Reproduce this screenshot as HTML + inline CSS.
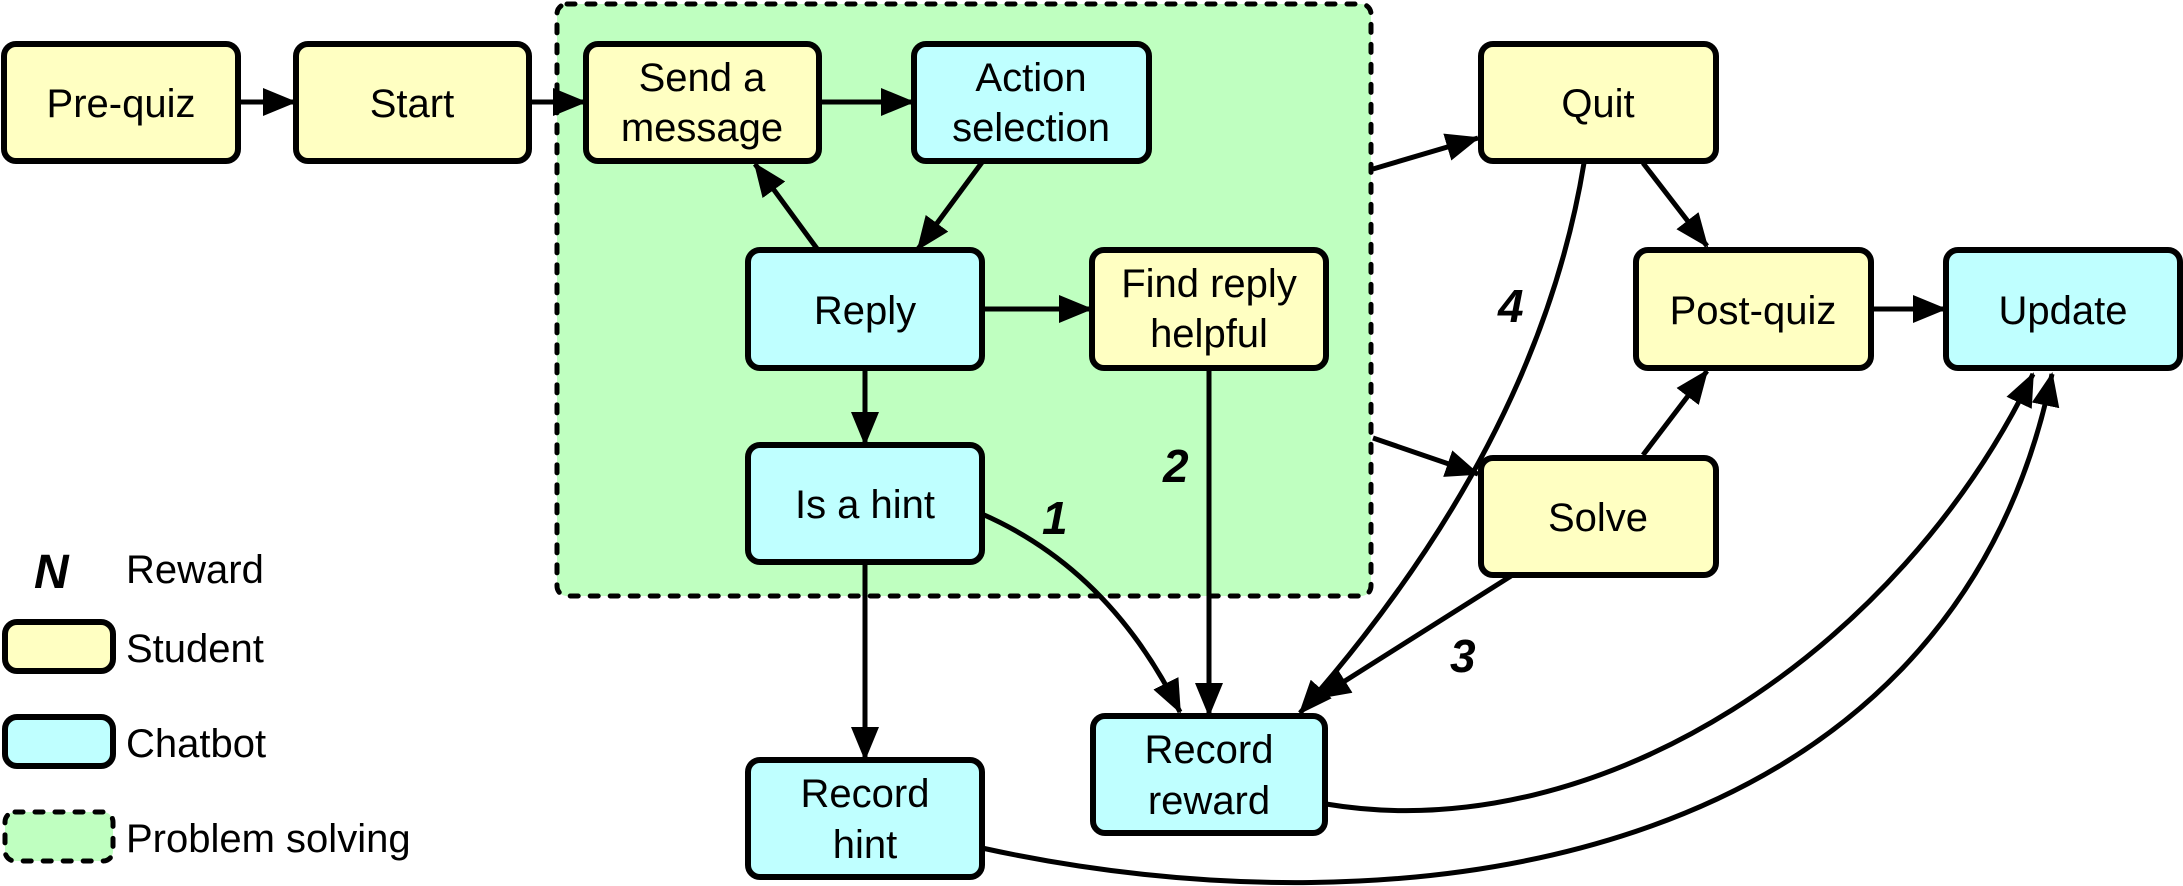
<!DOCTYPE html>
<html><head><meta charset="utf-8"><style>
html,body{margin:0;padding:0;background:#fff;}
svg{display:block;}
text{font-family:"Liberation Sans",Arial,sans-serif;font-size:40px;fill:#000;}
.n{font-weight:bold;font-style:italic;font-size:46px;}
</style></head><body>
<svg width="2183" height="886" viewBox="0 0 2183 886" xmlns="http://www.w3.org/2000/svg">
<defs>
<marker id="a" markerUnits="userSpaceOnUse" markerWidth="34" markerHeight="28" refX="32" refY="14" orient="auto">
<path d="M0,0 L34,14 L0,28 Z" fill="#000"/>
</marker>
</defs>
<rect x="557" y="4" width="814" height="592" rx="10" fill="#bfffc0" stroke="#000" stroke-width="5" stroke-dasharray="8,12" stroke-linecap="round"/>

<g stroke="#000" stroke-width="6">
<rect x="4" y="44" width="234" height="117" rx="12" fill="#ffffc2"/>
<rect x="296" y="44" width="233" height="117" rx="12" fill="#ffffc2"/>
<rect x="586" y="44" width="233" height="117" rx="12" fill="#ffffc2"/>
<rect x="914" y="44" width="235" height="117" rx="12" fill="#bfffff"/>
<rect x="748" y="250" width="234" height="118" rx="12" fill="#bfffff"/>
<rect x="1092" y="250" width="234" height="118" rx="12" fill="#ffffc2"/>
<rect x="748" y="445" width="234" height="117" rx="12" fill="#bfffff"/>
<rect x="1093" y="716" width="232" height="117" rx="12" fill="#bfffff"/>
<rect x="748" y="760" width="234" height="117" rx="12" fill="#bfffff"/>
<rect x="1481" y="44" width="235" height="117" rx="12" fill="#ffffc2"/>
<rect x="1636" y="250" width="235" height="118" rx="12" fill="#ffffc2"/>
<rect x="1946" y="250" width="234" height="118" rx="12" fill="#bfffff"/>
<rect x="1481" y="458" width="235" height="117" rx="12" fill="#ffffc2"/>
<rect x="5" y="622" width="108" height="49" rx="12" fill="#ffffc2"/>
<rect x="5" y="717" width="108" height="49" rx="12" fill="#bfffff"/>
</g>
<rect x="5" y="812" width="108" height="49" rx="10" fill="#bfffc0" stroke="#000" stroke-width="5" stroke-dasharray="8,12" stroke-linecap="round"/>

<g text-anchor="middle">
<text x="121" y="117">Pre-quiz</text>
<text x="412" y="117">Start</text>
<text x="702" y="91">Send a</text>
<text x="702" y="141">message</text>
<text x="1031" y="91">Action</text>
<text x="1031" y="141">selection</text>
<text x="865" y="324">Reply</text>
<text x="1209" y="297">Find reply</text>
<text x="1209" y="347">helpful</text>
<text x="865" y="518">Is a hint</text>
<text x="1209" y="763">Record</text>
<text x="1209" y="814">reward</text>
<text x="865" y="807">Record</text>
<text x="865" y="858">hint</text>
<text x="1598" y="117">Quit</text>
<text x="1753" y="324">Post-quiz</text>
<text x="2063" y="324">Update</text>
<text x="1598" y="531">Solve</text>
</g>
<g>
<text class="n" x="1042" y="534">1</text>
<text class="n" x="1163" y="482">2</text>
<text class="n" x="1450" y="672">3</text>
<text class="n" x="1498" y="322">4</text>
<text class="n" x="34" y="588" style="font-size:48px">N</text>
<text x="126" y="583">Reward</text>
<text x="126" y="662">Student</text>
<text x="126" y="757">Chatbot</text>
<text x="126" y="852">Problem solving</text>
</g>

<g stroke="#000" stroke-width="5" fill="none" marker-end="url(#a)">
<line x1="238" y1="102" x2="295" y2="102"/>
<line x1="529" y1="102" x2="585" y2="102"/>
<line x1="819" y1="102" x2="913" y2="102"/>
<line x1="983" y1="161" x2="918" y2="249"/>
<line x1="818" y1="250" x2="755" y2="164"/>
<line x1="982" y1="309" x2="1091" y2="309"/>
<line x1="865" y1="368" x2="865" y2="444"/>
<line x1="1209" y1="368" x2="1209" y2="715"/>
<line x1="865" y1="562" x2="865" y2="759"/>
<path d="M982,514 Q1110,570 1180,712"/>
<line x1="1373" y1="169" x2="1478" y2="138"/>
<line x1="1373" y1="438" x2="1478" y2="474"/>
<line x1="1643" y1="163" x2="1707" y2="246"/>
<line x1="1643" y1="455" x2="1707" y2="371"/>
<line x1="1871" y1="309" x2="1945" y2="309"/>
<path d="M1584,163 Q1538,444 1300,713"/>
<line x1="1511" y1="576" x2="1318" y2="698"/>
<path d="M1326,804 C1600,850 1900,650 2033,374"/>
<path d="M982,848 C1400,940 1950,870 2052,374"/>
</g>
</svg>
</body></html>
